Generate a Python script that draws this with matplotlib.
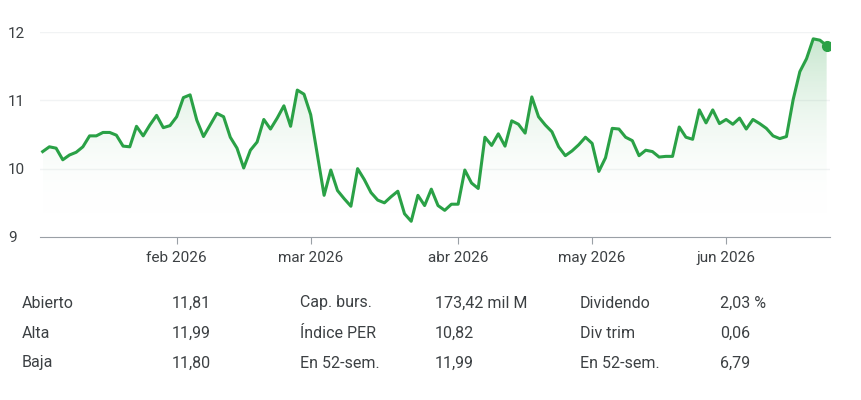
import numpy as np
import pandas as pd
import matplotlib
matplotlib.use("Agg")
import matplotlib.pyplot as plt
from matplotlib.patches import Polygon

values = [10.25,10.32,10.30,10.13,10.20,10.24,10.32,10.48,10.48,10.53,10.53,10.49,10.33,10.32,
          10.62,10.48,10.64,10.78,10.60,10.63,10.76,11.04,11.08,10.71,10.47,10.64,10.81,10.76,
          10.46,10.30,10.01,10.27,10.39,10.72,10.58,10.74,10.92,10.62,11.15,11.09,10.79,10.20,
          9.61,9.98,9.68,9.56,9.45,10.00,9.84,9.65,9.54,9.50,9.59,9.67,9.34,9.23,9.61,9.46,9.70,9.46,
          9.39,9.48,9.48,9.98,9.79,9.71,10.46,10.34,10.51,10.33,10.70,10.65,10.52,11.05,10.76,
          10.64,10.54,10.32,10.19,10.26,10.35,10.46,10.37,9.96,10.16,10.59,10.58,10.46,10.41,
          10.19,10.27,10.25,10.17,10.18,10.18,10.61,10.46,10.43,10.86,10.67,10.86,10.66,10.72,
          10.65,10.74,10.58,10.72,10.66,10.59,10.48,10.44,10.47,11.01,11.42,11.61,11.90,11.88,11.80]
holidays = ["2026-01-01", "2026-01-06", "2026-04-03", "2026-04-06", "2026-05-01"]
dates = pd.bdate_range(start="2026-01-02", periods=len(values), freq="C", holidays=holidays)
tick_dates = pd.to_datetime(["2026-02-01", "2026-03-01", "2026-04-01", "2026-05-01", "2026-06-01"])
tick_labels = ["feb 2026", "mar 2026", "abr 2026", "may 2026", "jun 2026"]
y_ticks = [9, 10, 11, 12]

rows = [["Abierto", "11,81", "Cap. burs.", "173,42 mil M", "Dividendo", "2,03 %"],
        ["Alta", "11,99", "Índice PER", "10,82", "Div trim", "0,06"],
        ["Baja", "11,80", "En 52-sem.", "11,99", "En 52-sem.", "6,79"]]

green = "#2aa146"
txt = "#3c4043"
plt.rcParams['font.family'] = ['Roboto', 'DejaVu Sans']

fig = plt.figure(figsize=(8.61, 4.00), dpi=100)
ax = fig.add_axes([40/861, 1-237/400, 790/861, 205/400])
x = np.arange(len(values))
tick_pos = np.searchsorted(dates.values, tick_dates.values)
ax.set_xlim(-0.4, len(values) - 1 + 0.5)
ax.set_ylim(9, 12)

grad = np.linspace(0, 1, 256).reshape(-1, 1)
cmap = matplotlib.colors.LinearSegmentedColormap.from_list(
    "g", [(1, 1, 1, 0), (0.16, 0.63, 0.27, 0.28)])
im = ax.imshow(grad, extent=[x[0], x[-1], 9.3, 12], origin="lower", aspect="auto",
               cmap=cmap, zorder=1)
poly = Polygon(np.column_stack([np.r_[x, x[-1], x[0]], np.r_[values, 9.3, 9.3]]),
               closed=True, facecolor="none", edgecolor="none")
ax.add_patch(poly)
im.set_clip_path(poly)

ax.plot(x, values, color=green, lw=2.2, zorder=3)
ax.plot(x[-1], values[-1], "o", color=green, ms=7, zorder=4)

for yv in y_ticks[1:]:
    ax.axhline(yv, color="#f1f3f4", lw=1, zorder=0)
for s in ["top", "right", "left"]:
    ax.spines[s].set_visible(False)
ax.spines["bottom"].set_color("#9aa0a6")
ax.set_yticks(y_ticks)
ax.set_yticklabels([str(v) for v in y_ticks], fontsize=11, color=txt)
ax.tick_params(axis="y", length=0, pad=6)
for lab in ax.get_yticklabels():
    lab.set_horizontalalignment("left")
    lab.set_x(-0.03)
ax.set_xticks(tick_pos)
ax.set_xticklabels(tick_labels, fontsize=11, color=txt)
ax.tick_params(axis="x", length=5, color="#9aa0a6", pad=5)

col_x = [22, 172, 300, 435, 580, 720]
row_y = [303, 333, 363]
for r, yy in zip(rows, row_y):
    for c, xx in zip(r, col_x):
        fig.text(xx/861, 1-yy/400, c, fontsize=11.5, color=txt, va="center", ha="left")

fig.savefig("out.png", dpi=100)
